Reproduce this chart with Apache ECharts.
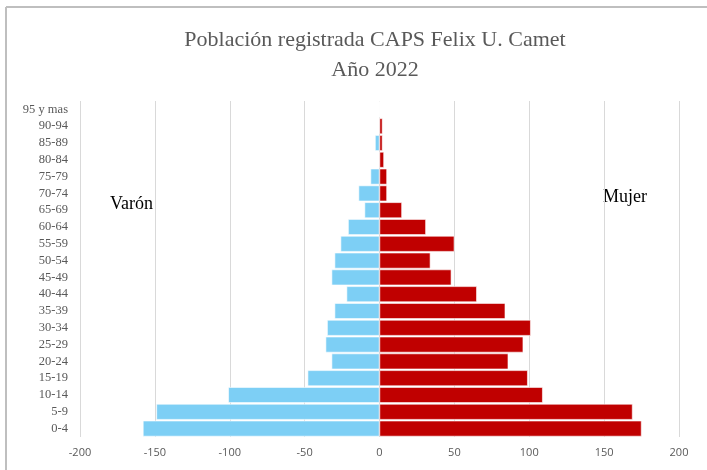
<!DOCTYPE html>
<html>
<head>
<meta charset="utf-8">
<script src="https://cdn.jsdelivr.net/npm/echarts@6/dist/echarts.min.js"></script>
<style>html,body{margin:0;padding:0;background:#fff;}#c{width:707px;height:470px;}</style>
</head>
<body>
<div id="c"></div>
<script>
var categories = ['0-4','5-9','10-14','15-19','20-24','25-29','30-34','35-39','40-44','45-49','50-54','55-59','60-64','65-69','70-74','75-79','80-84','85-89','90-94','95 y mas'];
var varon = [-158,-149,-101,-48,-32,-36,-35,-30,-22,-32,-30,-26,-21,-10,-14,-6,0,-3,0,0];
var mujer = [175,169,109,99,86,96,101,84,65,48,34,50,31,15,5,5,3,2,2,0];
var xTicks = [-200,-150,-100,-50,0,50,100,150,200];

var chart = echarts.init(document.getElementById('c'), null, {renderer:'canvas'});
var serif = '"Liberation Serif", "DejaVu Serif", serif';
chart.setOption({
  animation: false,
  backgroundColor: '#fff',
  title: {
    text: 'Población registrada CAPS Felix U. Camet\nAño 2022',
    left: 370, textAlign: 'center', top: 20,
    textStyle: {fontFamily: serif, fontSize: 22, fontWeight: 'normal', color: '#595959', lineHeight: 30}
  },
  grid: {left: 80, right: 28, top: 101, bottom: 33, containLabel: false},
  xAxis: {
    type: 'value', min: xTicks[0], max: xTicks[xTicks.length-1], interval: 50,
    axisLine: {show: false}, axisTick: {show: false},
    splitLine: {show: true, lineStyle: {color: '#d9d9d9', width: 1}},
    axisLabel: {color: '#595959', fontFamily: '"Open Sans", "Liberation Sans", sans-serif', fontSize: 11, margin: 10}
  },
  yAxis: {
    type: 'category', data: categories,
    axisLine: {show: false}, axisTick: {show: false},
    axisLabel: {interval: 0, color: '#595959', fontFamily: serif, fontSize: 12.5, margin: 12}
  },
  series: [
    {name: 'Varón', type: 'bar', stack: 'p', data: varon, barCategoryGap: '6%',
     itemStyle: {color: '#7dcff5', borderColor: '#ffffff', borderWidth: 0.6}},
    {name: 'Mujer', type: 'bar', stack: 'p', data: mujer, barCategoryGap: '6%',
     itemStyle: {color: '#c00000', borderColor: '#ffffff', borderWidth: 0.6}}
  ],
  graphic: [
    {type: 'line', shape: {x1: 6, y1: 7, x2: 707, y2: 7}, style: {stroke: '#bfbfbf', lineWidth: 2}},
    {type: 'line', shape: {x1: 6, y1: 7, x2: 6, y2: 470}, style: {stroke: '#bfbfbf', lineWidth: 2}},
    {type: 'text', left: 110, top: 195, style: {text: 'Varón', fontFamily: serif, fontSize: 18, fill: '#000'}},
    {type: 'text', left: 603, top: 188, style: {text: 'Mujer', fontFamily: serif, fontSize: 18, fill: '#000'}}
  ]
});
</script>
</body>
</html>
